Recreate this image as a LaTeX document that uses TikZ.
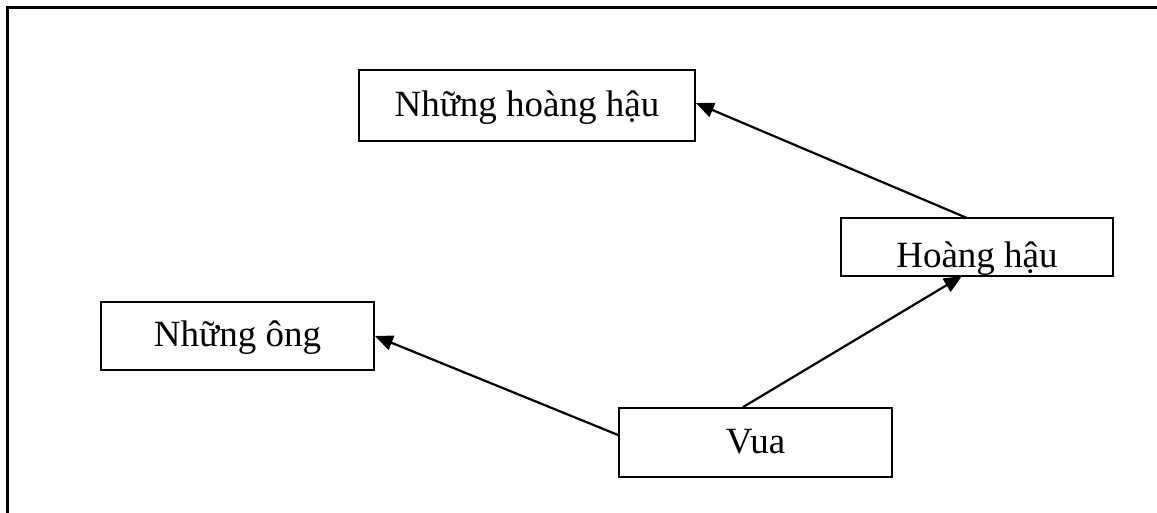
\documentclass[tikz,border=0pt]{standalone}
\usepackage{fontspec}
\setmainfont{Liberation Serif}
\usetikzlibrary{arrows.meta}

\tikzset{
  box/.style={draw=black, line width=1.8pt, fill=white, inner sep=0pt,
    font=\fontsize{37}{44}\selectfont, text height=29.6pt, text depth=8.5pt},
  lbl/.style={inner sep=0pt, font=\fontsize{37}{44}\selectfont},
  link/.style={line width=2.2pt, -{Triangle[length=18pt,width=15pt]}},
  frame/.style={line width=2.6pt, line cap=rect}
}

\begin{document}
\begin{tikzpicture}[x=1pt, y=-1pt]
  \useasboundingbox (0,0) rectangle (1157,512);

  % open frame: top and left edges only
  \coordinate (fbl) at (7.5,514);
  \coordinate (ftl) at (7.5,7.5);
  \coordinate (ftr) at (1159,7.5);
  \draw[frame] (fbl) -- (ftl) -- (ftr);

  % boxes
  \node[box, minimum width=336pt, minimum height=71pt] (nhh) at (527,105.5) {Những hoàng hậu};
  \node[box, draw=none, outer sep=0pt, minimum width=272pt, minimum height=58pt] (hh) at (977,247) {};
  \begin{scope}
    % the label sits low, so its descenders are cut off by the box
    \clip (hh.south west) rectangle (hh.north east);
    \node[lbl, anchor=base] (hhtext) at (977,267) {Hoàng hậu};
  \end{scope}
  \draw[line width=1.8pt] (hh.south west) rectangle (hh.north east);
  \node[box, minimum width=273pt, minimum height=68pt] (no) at (237.5,336) {Những ông};
  \node[box, minimum width=273pt, minimum height=69pt] (vua) at (755.5,442.5) {Vua};

  % connectors
  \draw[link] ([xshift=-10pt]hh.north) -- ([yshift=2.5pt]nhh.east);
  \draw[link] ([xshift=-12.5pt]vua.north) -- ([xshift=-15pt]hh.south);
  \draw[link] ([yshift=7.5pt]vua.west) -- (no.east);
\end{tikzpicture}
\end{document}
